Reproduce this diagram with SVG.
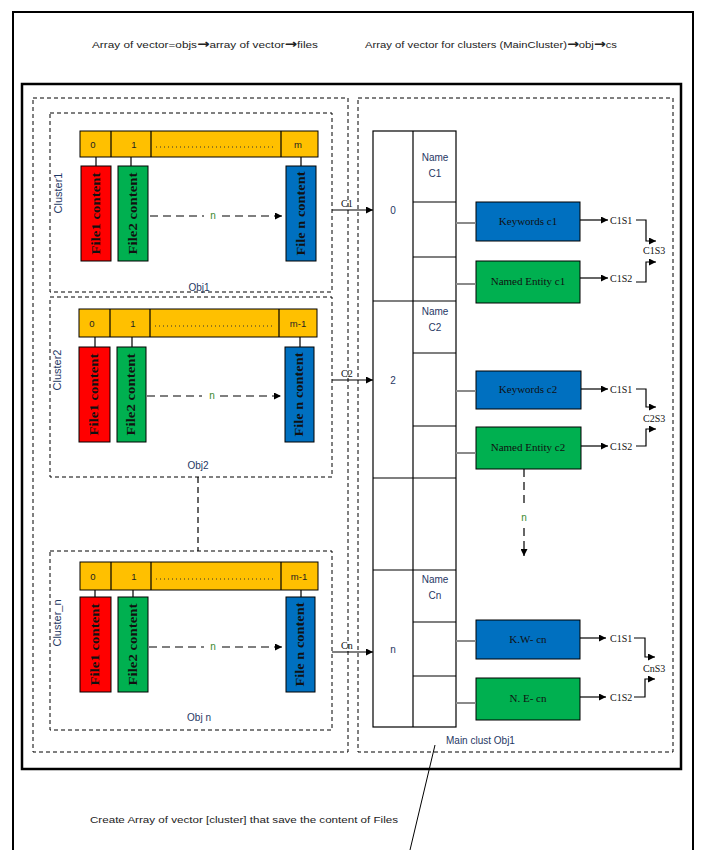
<svg xmlns="http://www.w3.org/2000/svg" width="701" height="850" viewBox="0 0 701 850">
<defs>
<marker id="ah" viewBox="0 0 10 10" refX="10" refY="5" markerWidth="7" markerHeight="7" orient="auto" markerUnits="userSpaceOnUse"><path d="M0,0 L10,5 L0,10 z" fill="#000"/></marker>
<style>
.t{font-family:"Liberation Sans",Arial,sans-serif;font-size:9.5px;fill:#222}
.ar{font-family:"DejaVu Sans",sans-serif;font-size:12px;font-weight:bold}
.nv{font-family:"Liberation Sans",Arial,sans-serif;font-size:10px;fill:#1F3864}
.cl{font-family:"Liberation Sans",Arial,sans-serif;font-size:11px;fill:#1F3864}
.sf{font-family:"Liberation Serif","Times New Roman",serif;font-size:10px;fill:#111}
.bx{font-family:"Liberation Serif","Times New Roman",serif;font-size:11px;fill:#111}
.fb{font-family:"Liberation Serif","Times New Roman",serif;font-size:11.5px;font-weight:bold;fill:#111}
.dash{fill:none;stroke:#000;stroke-width:1;stroke-dasharray:4,3}
.ln{fill:none;stroke:#000;stroke-width:1.2}
.bar{fill:#FFC000;stroke:#000;stroke-width:1}
.red{fill:#FF0000;stroke:#000;stroke-width:1}
.grn{fill:#00B050;stroke:#000;stroke-width:1}
.blu{fill:#0070C0;stroke:#000;stroke-width:1}
.gry{stroke:#8a8a8a;stroke-width:2;fill:none}
.gn{font-family:"Liberation Sans",Arial,sans-serif;font-size:10px;fill:#3a8a2a}
</style>
</defs>
<rect width="701" height="850" fill="#fff"/>
<g id="frame">
<path d="M13,860 V12 H693 V860" fill="none" stroke="#000" stroke-width="2"/>
<rect x="22" y="84" width="659" height="685" fill="none" stroke="#000" stroke-width="2.5"/>
<rect x="33" y="98" width="315" height="654" class="dash"/>
<rect x="358" y="98" width="315" height="654" class="dash"/>
</g>
<g id="titles">
<text class="t" x="92" y="48" textLength="226" lengthAdjust="spacingAndGlyphs">Array of vector=objs<tspan class="ar">→</tspan>array of vector<tspan class="ar">→</tspan>files</text>
<text class="t" x="365" y="48" textLength="252" lengthAdjust="spacingAndGlyphs">Array of vector for clusters (MainCluster)<tspan class="ar">→</tspan>obj<tspan class="ar">→</tspan>cs</text>
<text class="t" x="90" y="823" textLength="308" lengthAdjust="spacingAndGlyphs">Create Array of vector [cluster] that save the content of Files</text>
</g>
<g id="cluster1">
<rect x="50" y="113" width="282" height="179" class="dash"/>
<rect x="80" y="131" width="238" height="26" class="bar"/>
<path d="M111,131V157M151,131V157M281,131V157" class="ln" stroke-width="1"/>
<text class="t" x="93" y="148" text-anchor="middle" font-size="10">0</text>
<text class="t" x="134" y="148" text-anchor="middle" font-size="10">1</text>
<path d="M156,147H276" stroke="#333" stroke-width="1" stroke-dasharray="1,3"/>
<text class="t" x="298" y="148" text-anchor="middle" font-size="10">m</text>
<path d="M96,157V166M131,157V166M301,157V166" class="ln" stroke-width="1"/>
<rect x="81" y="166" width="30" height="95" class="red"/>
<rect x="118" y="166" width="30" height="95" class="grn"/>
<rect x="286" y="166" width="30" height="95" class="blu"/>
<text class="fb" transform="translate(100,213.5) rotate(-90)" text-anchor="middle" textLength="82" lengthAdjust="spacingAndGlyphs">File1 content</text>
<text class="fb" transform="translate(137,213.5) rotate(-90)" text-anchor="middle" textLength="82" lengthAdjust="spacingAndGlyphs">File2 content</text>
<text class="fb" transform="translate(305,213.5) rotate(-90)" text-anchor="middle" textLength="84" lengthAdjust="spacingAndGlyphs">File n content</text>
<text class="cl" transform="translate(62,193) rotate(-90)" text-anchor="middle">Cluster1</text>
<text class="nv" x="199" y="291" text-anchor="middle">Obj1</text>
</g>
<g id="cluster2">
<rect x="50" y="297" width="282" height="180" class="dash"/>
<rect x="79" y="309" width="238" height="28" class="bar"/>
<path d="M110,309V337M150,309V337M279,309V337" class="ln" stroke-width="1"/>
<text class="t" x="92" y="327" text-anchor="middle" font-size="10">0</text>
<text class="t" x="133" y="327" text-anchor="middle" font-size="10">1</text>
<path d="M155,326H274" stroke="#333" stroke-width="1" stroke-dasharray="1,3"/>
<text class="t" x="298" y="327" text-anchor="middle" font-size="10">m-1</text>
<path d="M95,337V347M132,337V347M300,337V347" class="ln" stroke-width="1"/>
<rect x="79" y="347" width="31" height="95" class="red"/>
<rect x="117" y="347" width="29" height="95" class="grn"/>
<rect x="285" y="347" width="29" height="95" class="blu"/>
<text class="fb" transform="translate(98,394.5) rotate(-90)" text-anchor="middle" textLength="82" lengthAdjust="spacingAndGlyphs">File1 content</text>
<text class="fb" transform="translate(135,394.5) rotate(-90)" text-anchor="middle" textLength="82" lengthAdjust="spacingAndGlyphs">File2 content</text>
<text class="fb" transform="translate(303,394.5) rotate(-90)" text-anchor="middle" textLength="84" lengthAdjust="spacingAndGlyphs">File n content</text>
<text class="cl" transform="translate(61,370) rotate(-90)" text-anchor="middle">Cluster2</text>
<text class="nv" x="198" y="469" text-anchor="middle">Obj2</text>
</g>
<g id="clustern">
<rect x="50" y="551" width="282" height="179" class="dash"/>
<rect x="80" y="562" width="238" height="28" class="bar"/>
<path d="M111,562V590M151,562V590M281,562V590" class="ln" stroke-width="1"/>
<text class="t" x="93" y="580" text-anchor="middle" font-size="10">0</text>
<text class="t" x="134" y="580" text-anchor="middle" font-size="10">1</text>
<path d="M156,579H276" stroke="#333" stroke-width="1" stroke-dasharray="1,3"/>
<text class="t" x="299" y="580" text-anchor="middle" font-size="10">m-1</text>
<path d="M95,590V597M133,590V597M301,590V597" class="ln" stroke-width="1"/>
<rect x="80" y="597" width="31" height="95" class="red"/>
<rect x="118" y="597" width="30" height="95" class="grn"/>
<rect x="286" y="597" width="29" height="95" class="blu"/>
<text class="fb" transform="translate(99,644.5) rotate(-90)" text-anchor="middle" textLength="82" lengthAdjust="spacingAndGlyphs">File1 content</text>
<text class="fb" transform="translate(137,644.5) rotate(-90)" text-anchor="middle" textLength="82" lengthAdjust="spacingAndGlyphs">File2 content</text>
<text class="fb" transform="translate(304,644.5) rotate(-90)" text-anchor="middle" textLength="84" lengthAdjust="spacingAndGlyphs">File n content</text>
<text class="cl" transform="translate(61,623) rotate(-90)" text-anchor="middle">Cluster_n</text>
<text class="nv" x="199" y="721" text-anchor="middle">Obj n</text>
</g>
<g id="maintable">
<rect x="373" y="131" width="83" height="596" fill="#fff" stroke="#000" stroke-width="1.2"/>
<path d="M413,131V727M373,301H456M373,478H456M373,570H456M413,202H456M413,257H456M413,353H456M413,426H456M413,622H456M413,676H456" class="ln"/>
<text class="nv" x="393" y="214" text-anchor="middle">0</text>
<text class="nv" x="393" y="384" text-anchor="middle">2</text>
<text class="nv" x="393" y="653" text-anchor="middle">n</text>
<text class="nv" x="435" y="161" text-anchor="middle">Name</text>
<text class="nv" x="435" y="177" text-anchor="middle">C1</text>
<text class="nv" x="435" y="315" text-anchor="middle">Name</text>
<text class="nv" x="435" y="331" text-anchor="middle">C2</text>
<text class="nv" x="435" y="583" text-anchor="middle">Name</text>
<text class="nv" x="435" y="599" text-anchor="middle">Cn</text>
<text class="nv" x="446" y="744">Main clust Obj1</text>
</g>
<g id="kw1"><rect x="476" y="202" width="104" height="39" class="blu"/><text class="bx" x="528" y="225" text-anchor="middle">Keywords c1</text></g>
<g id="ne1"><rect x="476" y="261" width="104" height="42" class="grn"/><text class="bx" x="528" y="285" text-anchor="middle">Named Entity c1</text></g>
<g id="kw2"><rect x="476" y="371" width="105" height="38" class="blu"/><text class="bx" x="528" y="393" text-anchor="middle">Keywords c2</text></g>
<g id="ne2"><rect x="476" y="427" width="105" height="42" class="grn"/><text class="bx" x="528" y="451" text-anchor="middle">Named Entity c2</text></g>
<g id="kwn"><rect x="476" y="620" width="104" height="39" class="blu"/><text class="bx" x="528" y="643" text-anchor="middle">K.W- cn</text></g>
<g id="nen"><rect x="476" y="678" width="104" height="42" class="grn"/><text class="bx" x="528" y="702" text-anchor="middle">N. E- cn</text></g>
<g id="labels">
<text class="sf" x="610" y="224">C1S1</text>
<text class="sf" x="610" y="282">C1S2</text>
<text class="sf" x="643" y="254">C1S3</text>
<text class="sf" x="610" y="393">C1S1</text>
<text class="sf" x="610" y="450">C1S2</text>
<text class="sf" x="643" y="422">C2S3</text>
<text class="sf" x="610" y="642">C1S1</text>
<text class="sf" x="610" y="701">C1S2</text>
<text class="sf" x="643" y="672">CnS3</text>
<text class="sf" x="341" y="207">C1</text>
<text class="sf" x="341" y="377">C2</text>
<text class="sf" x="341" y="649">Cn</text>
<text class="gn" x="213" y="219" text-anchor="middle">n</text>
<text class="gn" x="212" y="399" text-anchor="middle">n</text>
<text class="gn" x="213" y="650" text-anchor="middle">n</text>
<text class="gn" x="524" y="521" text-anchor="middle">n</text>
</g>
<g id="connectors">
<path d="M332,210H373" class="ln" marker-end="url(#ah)"/>
<path d="M332,380H373" class="ln" marker-end="url(#ah)"/>
<path d="M332,652H373" class="ln" marker-end="url(#ah)"/>
<path d="M150,216H204" class="ln" stroke-dasharray="8,5"/>
<path d="M222,216H282" class="ln" stroke-dasharray="8,5" marker-end="url(#ah)"/>
<path d="M147,396H202" class="ln" stroke-dasharray="8,5"/>
<path d="M220,396H281" class="ln" stroke-dasharray="8,5" marker-end="url(#ah)"/>
<path d="M149,647H204" class="ln" stroke-dasharray="8,5"/>
<path d="M222,647H282" class="ln" stroke-dasharray="8,5" marker-end="url(#ah)"/>
<path d="M198,477V551" class="ln" stroke-width="1" stroke-dasharray="6,4"/>
<path d="M524,469V508" class="ln" stroke-dasharray="8,5"/>
<path d="M524,528V556" class="ln" stroke-dasharray="8,5" marker-end="url(#ah)"/>
<path d="M456,223H476M456,284H476M456,391H476M456,453H476M456,641H476M456,703H476" class="gry"/>
<path d="M580,220H608" class="ln" marker-end="url(#ah)"/>
<path d="M580,278H608" class="ln" marker-end="url(#ah)"/>
<path d="M636,220H646V241H656" class="ln" marker-end="url(#ah)"/>
<path d="M636,282H646V262H656" class="ln" marker-end="url(#ah)"/>
<path d="M581,389H608" class="ln" marker-end="url(#ah)"/>
<path d="M581,446H608" class="ln" marker-end="url(#ah)"/>
<path d="M636,389H646V407H656" class="ln" marker-end="url(#ah)"/>
<path d="M636,446H646V429H656" class="ln" marker-end="url(#ah)"/>
<path d="M580,638H606" class="ln" marker-end="url(#ah)"/>
<path d="M580,697H606" class="ln" marker-end="url(#ah)"/>
<path d="M634,638H645V657H655" class="ln" marker-end="url(#ah)"/>
<path d="M634,697H645V679H655" class="ln" marker-end="url(#ah)"/>
<path d="M435,745L410,850" fill="none" stroke="#000" stroke-width="1"/>
</g>
</svg>
